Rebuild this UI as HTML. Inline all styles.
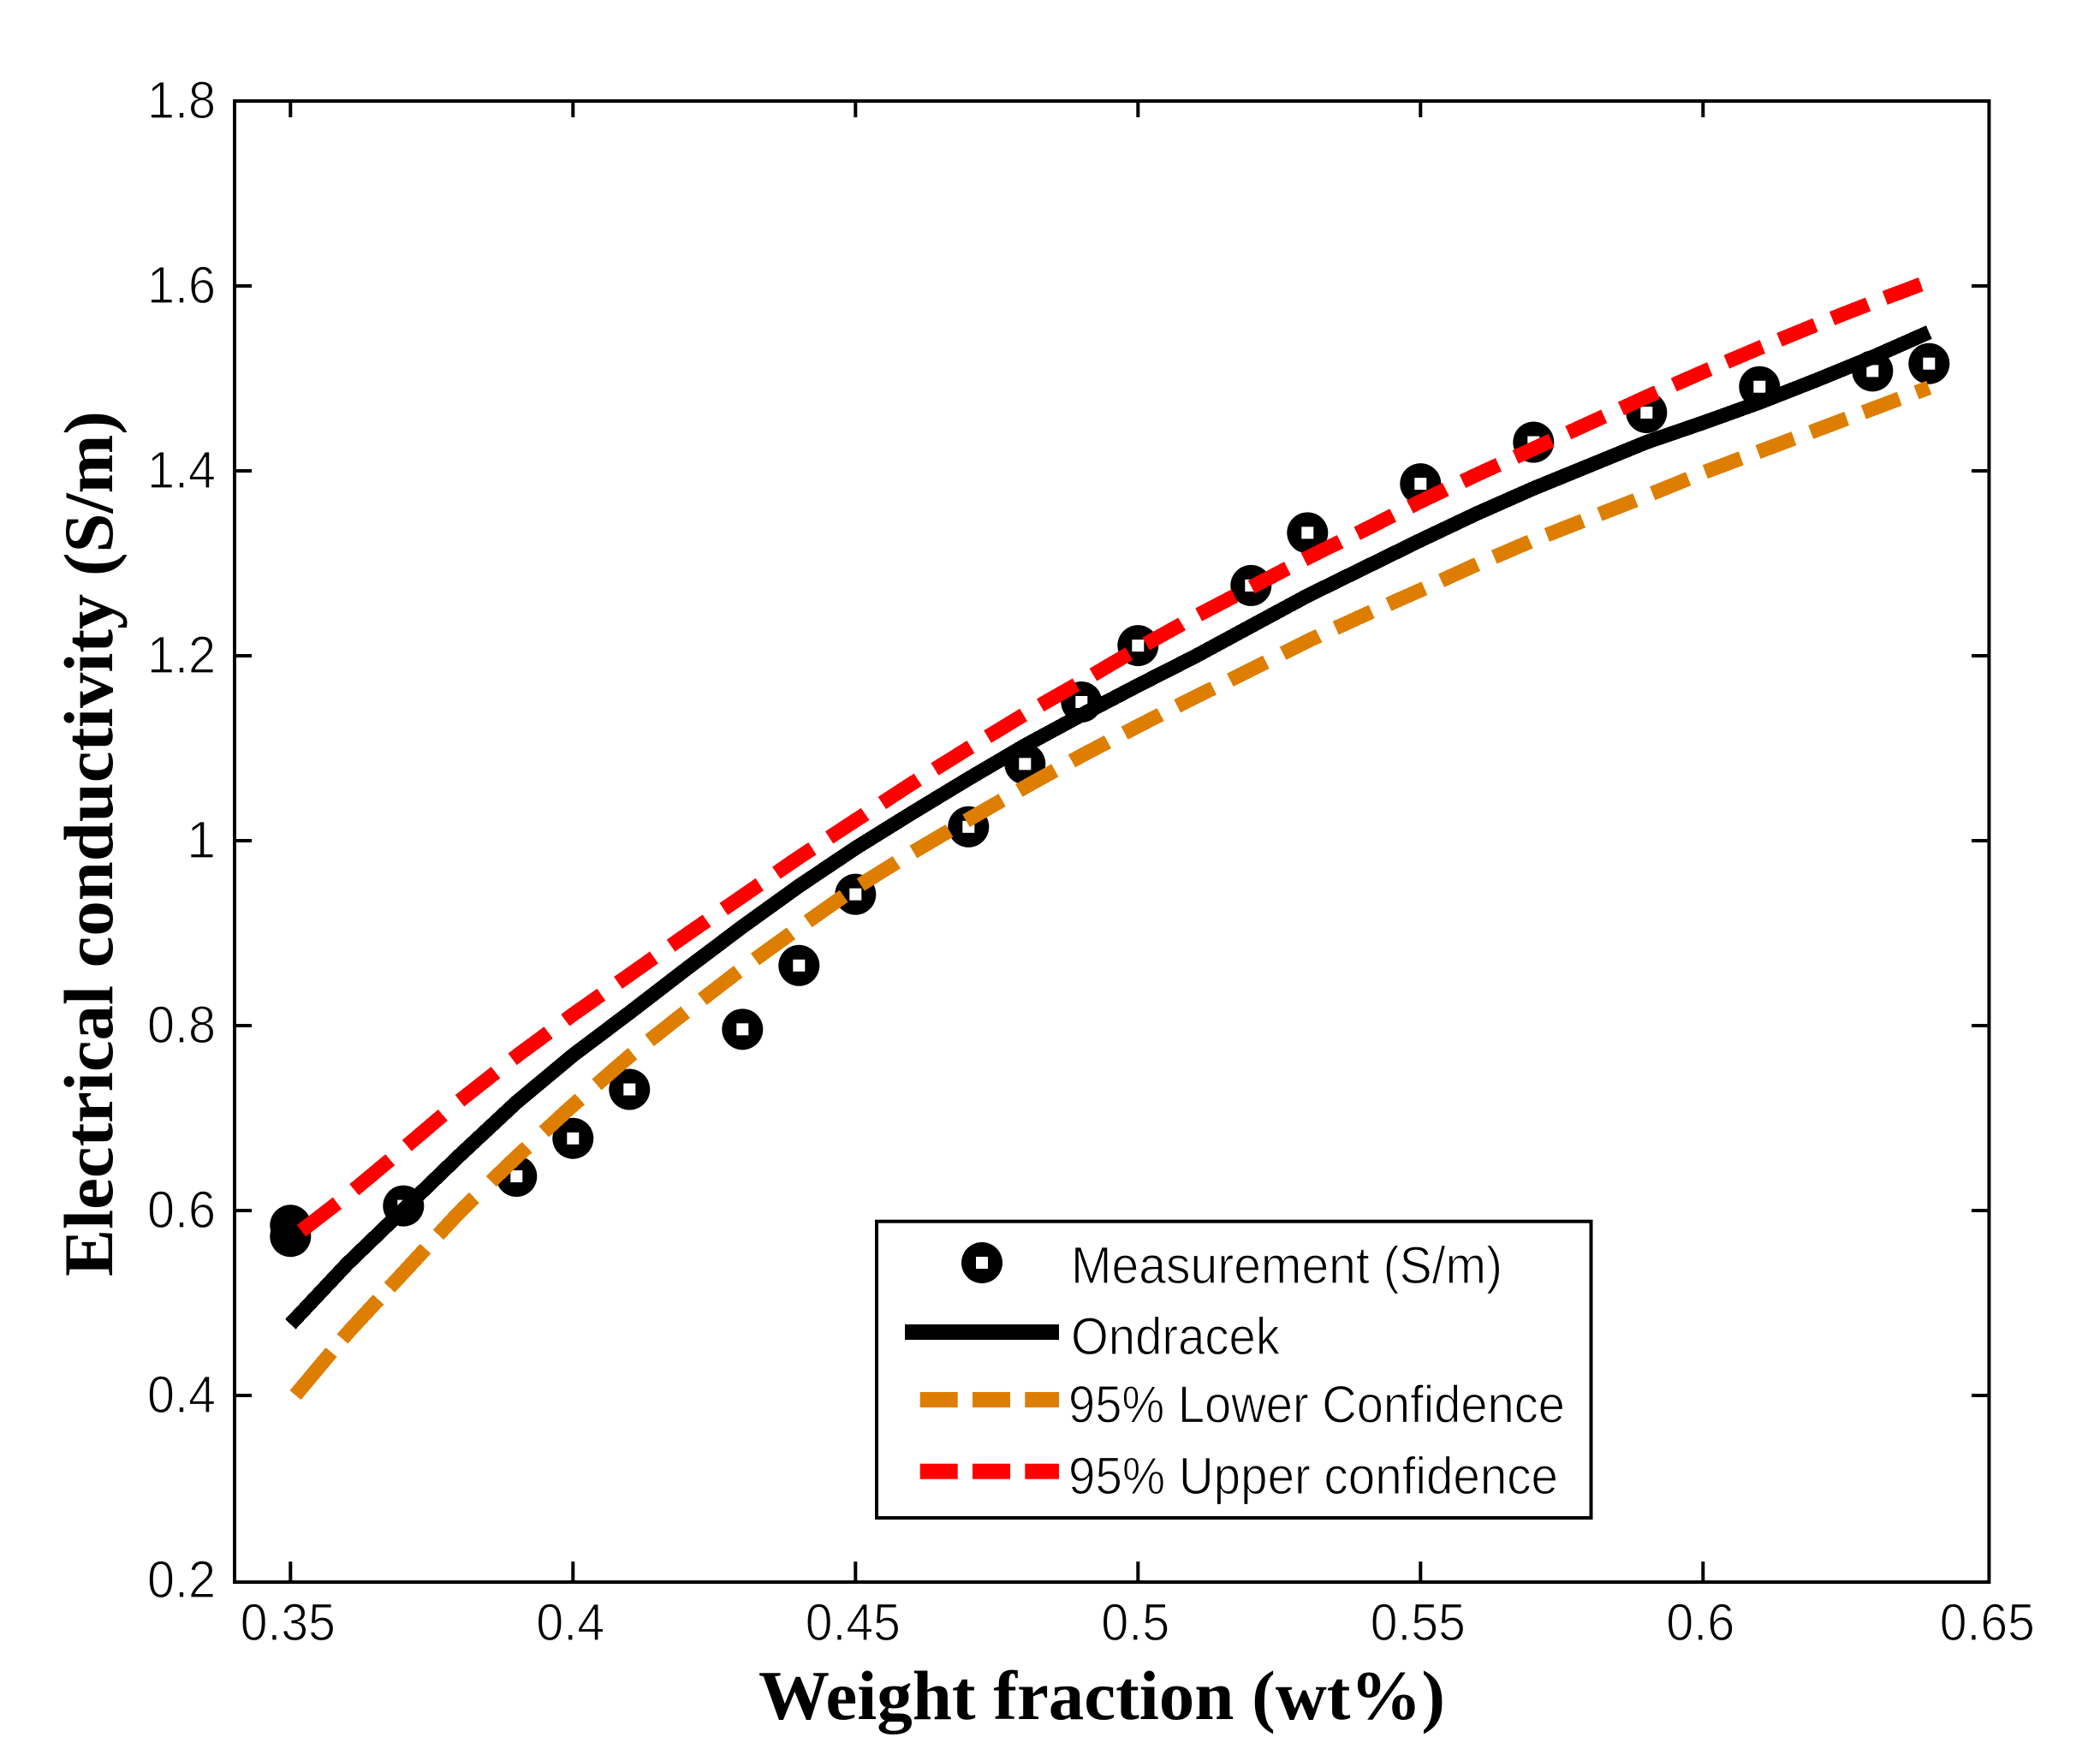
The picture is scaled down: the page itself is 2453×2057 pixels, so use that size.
<!DOCTYPE html>
<html lang="en">
<head>
<meta charset="utf-8">
<title>Electrical conductivity vs weight fraction</title>
<style>
html,body{margin:0;padding:0;background:#fff;}
svg{display:block;}
.tick-label,.legend-label{font-family:"Liberation Sans",Arial,sans-serif;font-size:61px;fill:#000;stroke:#fff;stroke-width:1.2px;}
.axis-title{font-family:"Liberation Serif","Times New Roman",serif;font-weight:bold;font-size:82px;fill:#000;}
</style>
</head>
<body>
<svg id="chart" xmlns="http://www.w3.org/2000/svg" width="2453" height="2057" viewBox="0 0 2453 2057">
  <rect x="0" y="0" width="2453" height="2057" fill="#fff"/>
  <g id="markers"></g>
  <g id="lines"></g>
  <g id="axes"></g>
  <text class="axis-title" x="886" y="2008" textLength="802" lengthAdjust="spacingAndGlyphs">Weight fraction (wt%)</text>
  <text class="axis-title" transform="translate(131,1491) rotate(-90)" x="0" y="0" textLength="1011" lengthAdjust="spacingAndGlyphs">Electrical conductivity (S/m)</text>

  <g>
    <rect x="1024" y="1426.7" width="834.5" height="346.3" fill="#fff" stroke="#000" stroke-width="4"/>
    <circle cx="1147" cy="1475" r="24" fill="#000"/>
    <rect x="1140" y="1468" width="14" height="14" fill="#fff"/>
    <rect x="1057" y="1547" width="180" height="18" fill="#000"/>
    <g fill="#de7e00">
      <rect x="1074.7" y="1626" width="44" height="18"/>
      <rect x="1136" y="1626" width="44" height="18"/>
      <rect x="1197.3" y="1626" width="39.7" height="18"/>
    </g>
    <g fill="#ff0000">
      <rect x="1074.7" y="1709.7" width="44" height="18"/>
      <rect x="1136" y="1709.7" width="44" height="18"/>
      <rect x="1197.3" y="1709.7" width="39.7" height="18"/>
    </g>
    <text class="legend-label" x="1251" y="1499" textLength="504" lengthAdjust="spacingAndGlyphs">Measurement (S/m)</text>
    <text class="legend-label" x="1251" y="1582" textLength="244" lengthAdjust="spacingAndGlyphs">Ondracek</text>
    <text class="legend-label" x="1248" y="1661.7" textLength="580" lengthAdjust="spacingAndGlyphs">95% Lower Confidence</text>
    <text class="legend-label" x="1248" y="1745" textLength="572" lengthAdjust="spacingAndGlyphs">95% Upper confidence</text>
  </g>
</svg>
<script>
// ---- chart data ----
var xTickValues = [0.35, 0.4, 0.45, 0.5, 0.55, 0.6, 0.65];
var xTickLabels = ['0.35', '0.4', '0.45', '0.5', '0.55', '0.6', '0.65'];
var yTickValues = [0.2, 0.4, 0.6, 0.8, 1.0, 1.2, 1.4, 1.6, 1.8];
var yTickLabels = ['0.2', '0.4', '0.6', '0.8', '1', '1.2', '1.4', '1.6', '1.8'];

var measurementX = [0.35, 0.35, 0.37, 0.39, 0.40, 0.41, 0.43, 0.44, 0.45, 0.47, 0.48, 0.49, 0.50, 0.52, 0.53, 0.55, 0.57, 0.59, 0.61, 0.63, 0.64];
var measurementY = [0.584, 0.572, 0.605, 0.637, 0.678, 0.731, 0.796, 0.865, 0.942, 1.015, 1.083, 1.150, 1.211, 1.276, 1.333, 1.386, 1.431, 1.463, 1.491, 1.508, 1.516];

var curveX = [0.35, 0.36, 0.37, 0.38, 0.39, 0.40, 0.41, 0.42, 0.43, 0.44, 0.45, 0.46, 0.47, 0.48, 0.49, 0.50, 0.51, 0.52, 0.53, 0.54, 0.55, 0.56, 0.57, 0.58, 0.59, 0.60, 0.61, 0.62, 0.63, 0.64];
var ondracekY = [0.477, 0.542, 0.601, 0.660, 0.717, 0.768, 0.814, 0.861, 0.907, 0.951, 0.992, 1.030, 1.067, 1.103, 1.136, 1.168, 1.199, 1.232, 1.265, 1.295, 1.325, 1.354, 1.381, 1.406, 1.431, 1.452, 1.474, 1.498, 1.523, 1.550];
var lowerY = [0.394, 0.467, 0.533, 0.599, 0.658, 0.714, 0.767, 0.815, 0.862, 0.906, 0.949, 0.987, 1.023, 1.058, 1.092, 1.124, 1.155, 1.185, 1.216, 1.244, 1.271, 1.299, 1.325, 1.349, 1.373, 1.398, 1.421, 1.444, 1.467, 1.490];
var upperY = [0.569, 0.616, 0.667, 0.719, 0.767, 0.812, 0.855, 0.898, 0.940, 0.982, 1.022, 1.062, 1.100, 1.137, 1.172, 1.208, 1.242, 1.274, 1.306, 1.336, 1.367, 1.396, 1.424, 1.452, 1.480, 1.507, 1.533, 1.558, 1.582, 1.605];

// ---- axis functions ----
var plotLeft = 274, plotRight = 2323.4, plotTop = 118, plotBottom = 1848;
function xScale(v) { return 339.3 + (v - 0.35) * 6600; }
function yScale(v) { return 118 + (1.8 - v) * 1080; }

var NS = 'http://www.w3.org/2000/svg';
function make(tag, parent, attrs) {
  var el = document.createElementNS(NS, tag);
  for (var k in attrs) { el.setAttribute(k, attrs[k]); }
  parent.appendChild(el);
  return el;
}

// ---- markers (drawn beneath the lines) ----
var markerGroup = document.getElementById('markers');
measurementX.forEach(function (xv, i) {
  var cx = xScale(xv), cy = yScale(measurementY[i]);
  var c = make('circle', markerGroup, { cx: cx, cy: cy, r: 24, fill: '#000' });
  
  
});
measurementX.forEach(function (xv, i) {
  if (xv === 0.35) { return; }
  var cx = xScale(xv), cy = yScale(measurementY[i]);
  var h = make('rect', markerGroup, { x: cx - 7, y: cy - 7, width: 14, height: 14, fill: '#fff' });
  
  
});

// ---- lines ----
function curvePixelY(px, values) {
  var xs = curveX.map(xScale);
  if (px <= xs[0]) { return yScale(values[0]); }
  for (var i = 1; i < xs.length; i++) {
    if (px <= xs[i]) {
      var t = (px - xs[i - 1]) / (xs[i] - xs[i - 1]);
      return yScale(values[i - 1] + t * (values[i] - values[i - 1]));
    }
  }
  return yScale(values[values.length - 1]);
}
function solidPath(values) {
  return curveX.map(function (xv, i) {
    return (i ? 'L' : 'M') + xScale(xv).toFixed(1) + ' ' + yScale(values[i]).toFixed(1);
  }).join(' ');
}
// Dashes are laid out along x with a fixed pitch, sampled from the data curve.
function dashedPath(values, startFor) {
  var end = xScale(curveX[curveX.length - 1]);
  var d = [];
  for (var n = 0; n < 60; n++) {
    var a = startFor(n);
    if (a >= end) { break; }
    var b = Math.min(a + 42, end);
    var seg = 'M' + a.toFixed(1) + ' ' + curvePixelY(a, values).toFixed(1);
    for (var p = a + 10; p < b; p += 10) {
      seg += ' L' + p.toFixed(1) + ' ' + curvePixelY(p, values).toFixed(1);
    }
    seg += ' L' + b.toFixed(1) + ' ' + curvePixelY(b, values).toFixed(1);
    d.push(seg);
  }
  return d.join(' ');
}
var lineGroup = document.getElementById('lines');
var lineStyle = { fill: 'none', 'stroke-width': 17, 'stroke-linecap': 'butt', 'stroke-linejoin': 'round', 'shape-rendering': 'crispEdges' };

var lowerAttrs = Object.assign({ d: dashedPath(lowerY, function (n) { return n < 3 ? 345 + 55 * n : 512 + (n - 3) * 61.66; }), stroke: '#de7e00' }, lineStyle);
var lowerLine = make('path', lineGroup, lowerAttrs);



var ondracekAttrs = Object.assign({ d: solidPath(ondracekY), stroke: '#000' }, lineStyle);
var ondracekLine = make('path', lineGroup, ondracekAttrs);



var upperAttrs = Object.assign({ d: dashedPath(upperY, function (n) { return 352 + n * 61.66; }), stroke: '#ff0000' }, lineStyle);
var upperLine = make('path', lineGroup, upperAttrs);



// ---- axes ----
var axesGroup = document.getElementById('axes');
var frame = make('rect', axesGroup, { x: plotLeft, y: plotTop, width: plotRight - plotLeft, height: plotBottom - plotTop, fill: 'none', stroke: '#000', 'stroke-width': 4 });



xTickValues.forEach(function (v, i) {
  var x = xScale(v);
  if (plotRight - x > 8) {
    var bottom = make('line', axesGroup, { x1: x, x2: x, y1: plotBottom - 2, y2: 1824, stroke: '#000', 'stroke-width': 4 });
    
    
    var top = make('line', axesGroup, { x1: x, x2: x, y1: plotTop + 2, y2: 137, stroke: '#000', 'stroke-width': 4 });
    
    
  }
  var t = make('text', axesGroup, { x: x - 3 + (i === 6 ? 5 : 0), y: 1916, 'text-anchor': 'middle', 'class': 'tick-label', textLength: xTickLabels[i].length === 3 ? 80 : 111, lengthAdjust: 'spacingAndGlyphs' });
  t.textContent = xTickLabels[i];
  
  
});

yTickValues.forEach(function (v, i) {
  var y = yScale(v);
  if (plotBottom - y > 8 && y - plotTop > 8) {
    var left = make('line', axesGroup, { x1: plotLeft + 2, x2: 294, y1: y, y2: y, stroke: '#000', 'stroke-width': 4 });
    
    
    var right = make('line', axesGroup, { x1: plotRight - 2, x2: 2303, y1: y, y2: y, stroke: '#000', 'stroke-width': 4 });
    
    
  }
  var attrs = { x: 252, y: y + 20, 'text-anchor': 'end', 'class': 'tick-label' };
  if (yTickLabels[i].length === 3) { attrs.textLength = 80; attrs.lengthAdjust = 'spacingAndGlyphs'; }
  var t = make('text', axesGroup, attrs);
  t.textContent = yTickLabels[i];
  
  
});
</script>
</body>
</html>
